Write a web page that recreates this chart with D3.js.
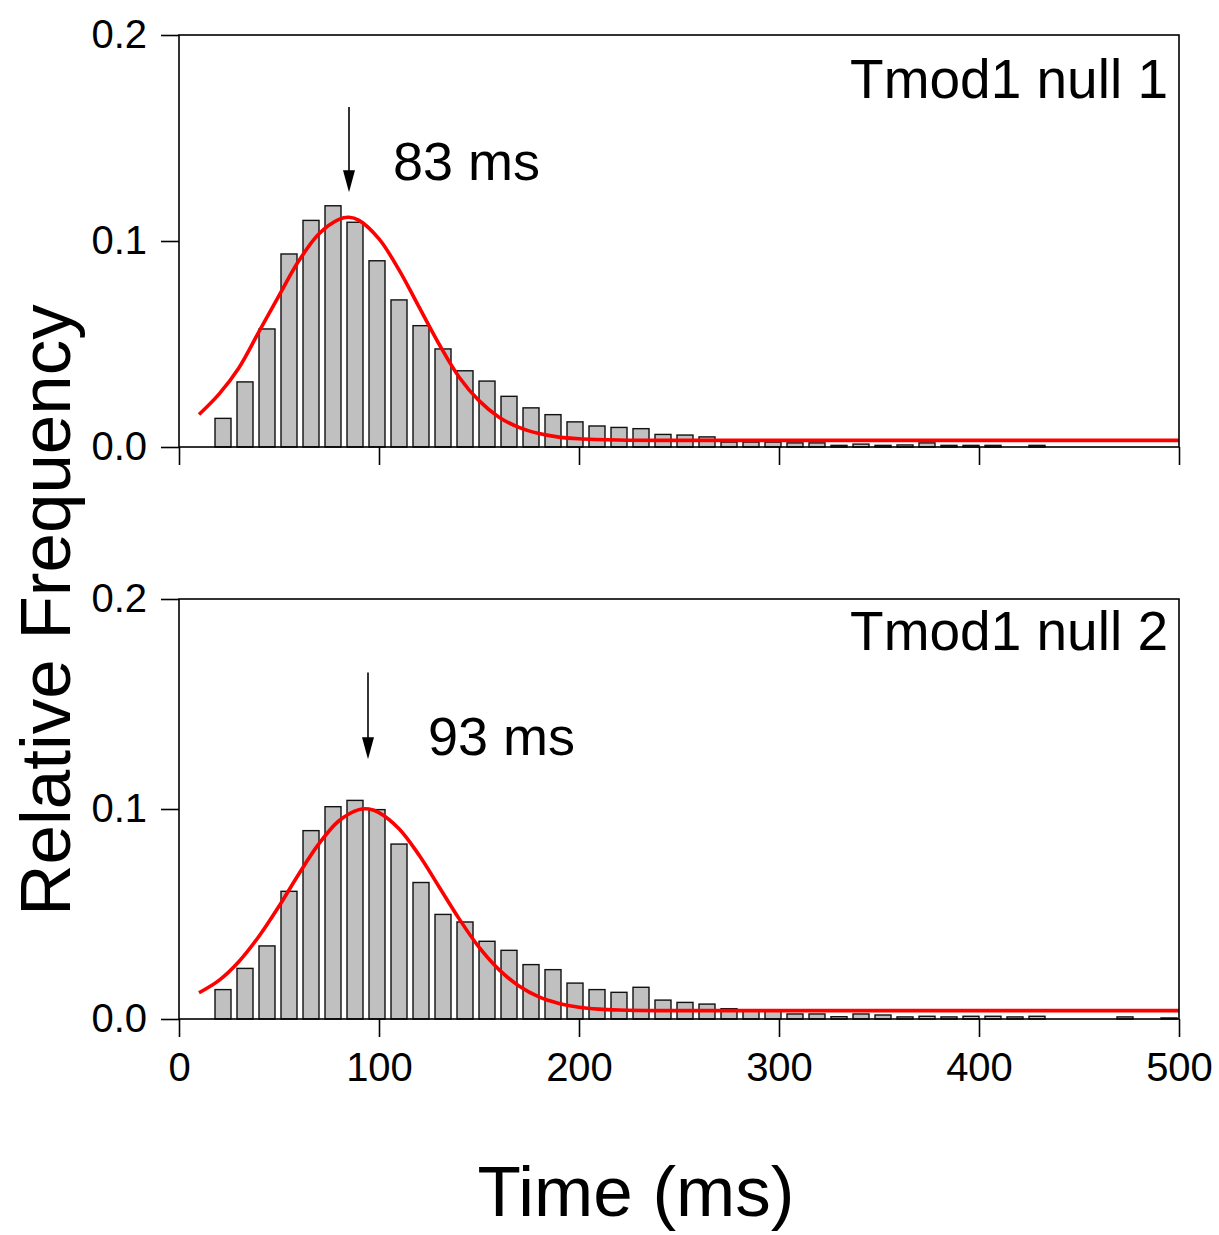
<!DOCTYPE html>
<html>
<head>
<meta charset="utf-8">
<script src="https://cdn.jsdelivr.net/npm/d3@7"></script>
<style>
    body { margin: 0; background: #fff; }
    text { font-family: "Liberation Sans", Arial, sans-serif; fill: #000; }
</style>
</head>
<body>
<svg id="chart" width="1219" height="1235"></svg>
<script>
(function() {
    'use strict';

    // bin centres (ms)
    var binTimes = [22, 33, 44, 55, 66, 77, 88, 99, 110, 121, 132, 143, 154, 165, 176, 187, 198,
        209, 220, 231, 242, 253, 264, 275, 286, 297, 308, 319, 330, 341, 352, 363, 374, 385,
        396, 407, 418, 429, 440, 451, 462, 473, 484, 495];

    var null1Freq = [0.0139, 0.0316, 0.0573, 0.0937, 0.110, 0.1171, 0.1091, 0.0904, 0.0714, 0.0589,
        0.0476, 0.037, 0.032, 0.0246, 0.019, 0.0157, 0.0122, 0.0102, 0.0095, 0.0089, 0.0061,
        0.0058, 0.0049, 0.0024, 0.0024, 0.0024, 0.002, 0.002, 0.0008, 0.0014, 0.0008, 0.001,
        0.002, 0.0008, 0.0008, 0.0008, 0, 0.0008, 0, 0, 0, 0, 0, 0];

    var null2Freq = [0.014, 0.0241, 0.0348, 0.0608, 0.0897, 0.1011, 0.1041, 0.0997, 0.0833, 0.065,
        0.0498, 0.0462, 0.037, 0.0327, 0.0259, 0.0235, 0.0171, 0.014, 0.0127, 0.0151, 0.009,
        0.0079, 0.0071, 0.0049, 0.004, 0.004, 0.0024, 0.0024, 0.0011, 0.0024, 0.0019, 0.001,
        0.0013, 0.001, 0.0013, 0.0013, 0.001, 0.0013, 0, 0, 0, 0.001, 0, 0.0005];

    // fitted curves
    var fit1Times = [10, 20, 30, 40, 50, 60, 70, 80, 85, 90, 100, 110, 120, 130, 140, 150, 160,
        170, 180, 190, 200, 220, 240, 300, 400, 500];
    var fit1Values = [0.0158, 0.0257, 0.0385, 0.0560, 0.0735, 0.0905, 0.1035, 0.1105, 0.1115,
        0.1100, 0.1010, 0.0860, 0.0680, 0.0500, 0.0340, 0.0225, 0.0145, 0.0095, 0.0065, 0.0048,
        0.0040, 0.0034, 0.0032, 0.0032, 0.0032, 0.0032];

    var fit2Times = [10, 20, 30, 40, 50, 60, 70, 80, 90, 95, 100, 110, 120, 130, 140, 150, 160,
        170, 180, 190, 200, 210, 220, 240, 300, 400, 500];
    var fit2Values = [0.0125, 0.0184, 0.0274, 0.0394, 0.0537, 0.0692, 0.0835, 0.0944, 0.0997,
        0.1000, 0.0983, 0.0906, 0.0781, 0.0630, 0.0478, 0.0342, 0.0235, 0.0157, 0.0105, 0.0074,
        0.0056, 0.0047, 0.0043, 0.0040, 0.0040, 0.0040, 0.0040];

    var panelNames = ['Tmod1 null 1', 'Tmod1 null 2'];
    var peakLabels = ['83 ms', '93 ms'];
    var arrowTimes = [85, 94.5];

    var xTicks = [0, 100, 200, 300, 400, 500];
    var yTicks = [0, 0.1, 0.2];

    var svg = d3.select('#chart');

    var x = d3.scaleLinear().domain([0, 500]).range([179, 1179]);

    var panels = [
        { name: panelNames[0], freq: null1Freq, fitT: fit1Times, fitV: fit1Values,
          peak: peakLabels[0], arrowAt: arrowTimes[0], labelAt: 107, labelY: 0.1296,
          nameY: 0.1694, range: [447, 35], showLabels: false },
        { name: panelNames[1], freq: null2Freq, fitT: fit2Times, fitV: fit2Values,
          peak: peakLabels[1], arrowAt: arrowTimes[1], labelAt: 124.5, labelY: 0.1259,
          nameY: 0.1759, range: [1019, 599], showLabels: true }
    ];

    panels.forEach(drawPanel);

    svg.append('text')
        .attr('x', 636)
        .attr('y', 1216)
        .attr('text-anchor', 'middle')
        .attr('font-size', 71)
        .text('Time (ms)');

    svg.append('text')
        .attr('transform', 'translate(70,610) rotate(-90)')
        .attr('text-anchor', 'middle')
        .attr('font-size', 71)
        .text('Relative Frequency');

    function drawPanel(p) {
        var y = d3.scaleLinear().domain([0, 0.2]).range(p.range);
        var g = svg.append('g');

        var bins = binTimes.map(function(t, i) { return { t: t, v: p.freq[i] }; })
            .filter(function(d) { return d.v > 0; });

        g.append('g')
            .selectAll('rect')
            .data(bins)
            .enter().append('rect')
            .attr('x', function(d) { return x(d.t - 4); })
            .attr('width', function(d) { return x(d.t + 4) - x(d.t - 4); })
            .attr('y', function(d) { return y(d.v); })
            .attr('height', function(d) { return y(0) - y(d.v); })
            .attr('fill', '#c0c0c0')
            .attr('stroke', '#111')
            .attr('stroke-width', 1.4);

        var line = d3.line()
            .x(function(d) { return x(d[0]); })
            .y(function(d) { return y(d[1]); })
            .curve(d3.curveCatmullRom.alpha(0.5));

        g.append('path')
            .datum(d3.zip(p.fitT, p.fitV))
            .attr('d', line)
            .attr('fill', 'none')
            .attr('stroke', '#ff0000')
            .attr('stroke-width', 3.6);

        // frame
        g.append('rect')
            .attr('x', x(0))
            .attr('y', y(0.2))
            .attr('width', x(500) - x(0))
            .attr('height', y(0) - y(0.2))
            .attr('fill', 'none')
            .attr('stroke', '#000')
            .attr('stroke-width', 1.6);

        var yAxis = d3.axisLeft(y)
            .tickValues(yTicks)
            .tickFormat(d3.format('.1f'))
            .tickSize(18)
            .tickPadding(14);

        var xAxis = d3.axisBottom(x)
            .tickValues(xTicks)
            .tickSize(18)
            .tickPadding(16)
            .tickFormat(p.showLabels ? d3.format('d') : function() { return ''; });

        var ya = g.append('g')
            .attr('transform', 'translate(' + x(0) + ',0)')
            .call(yAxis);
        var xa = g.append('g')
            .attr('transform', 'translate(0,' + y(0) + ')')
            .call(xAxis);

        [ya, xa].forEach(function(a) {
            a.select('.domain').remove();
            a.selectAll('line').attr('stroke', '#000').attr('stroke-width', 1.6);
            a.selectAll('text')
                .attr('font-family', '"Liberation Sans", Arial, sans-serif')
                .attr('font-size', 40)
                .attr('fill', '#000');
        });

        g.append('text')
            .attr('x', 1168)
            .attr('y', y(p.nameY))
            .attr('text-anchor', 'end')
            .attr('font-size', 55)
            .text(p.name);

        // arrow to the peak
        var ax = x(p.arrowAt);
        var yTop = y(0.165);
        var yTip = y(0.1237);
        g.append('line')
            .attr('x1', ax).attr('x2', ax)
            .attr('y1', yTop).attr('y2', yTip - 10)
            .attr('stroke', '#000')
            .attr('stroke-width', 1.6);
        g.append('path')
            .attr('d', 'M' + (ax - 6) + ',' + (yTip - 22) + 'L' + (ax + 6) + ',' + (yTip - 22) +
                'L' + ax + ',' + yTip + 'Z')
            .attr('fill', '#000');

        g.append('text')
            .attr('x', x(p.labelAt))
            .attr('y', y(p.labelY))
            .attr('font-size', 54)
            .text(p.peak);
    }
}());
</script>
</body>
</html>
